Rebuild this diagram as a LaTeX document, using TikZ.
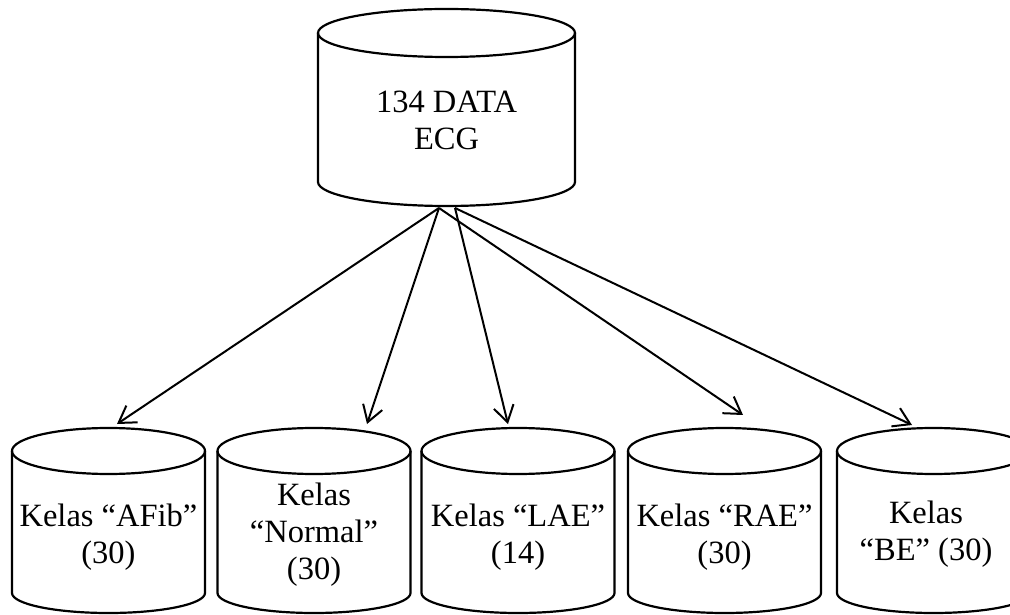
\documentclass[tikz,border=0pt]{standalone}
\usepackage{fontspec}
\setmainfont{Liberation Serif}
\usetikzlibrary{arrows.meta}

\tikzset{
  drumline/.style={line width=2.2pt, line join=round},
  drumtext/.style={align=center, font=\fontsize{32.5}{37}\selectfont, inner sep=0pt},
  flow/.style={line width=2pt, -{Straight Barb[angle=64:19pt, line width=2pt]}},
}

% database drum: centre x, half width, top rim y, bottom rim y, top radius, bottom radius
\newcommand\drum[6]{%
  \draw[drumline] (#1-#2,#3) -- (#1-#2,#4)
    arc[start angle=180, end angle=360, x radius=#2, y radius=#6] -- (#1+#2,#3);
  \draw[drumline] (#1,#3) ellipse[x radius=#2, y radius=#5];
}

\begin{document}
\begin{tikzpicture}[x=1pt, y=1pt]
  \clip (0,0) rectangle (1010,614);

  % source data set
  \drum{446.5}{128.5}{581}{432}{24}{24}
  \node[drumtext] (ecg) at (446.5,494) {134 DATA\\ECG};

  % the five classes
  \drum{108.5}{96.5}{163}{21}{23}{20}
  \drum{314}{96.5}{163}{21}{23}{20}
  \drum{518}{96.5}{163}{21}{23}{20}
  \drum{724.5}{96.5}{163}{21}{23}{20}
  \drum{933.5}{96.5}{163}{21}{23}{20}

  \node[drumtext] (afib)   at (108.5,77) {Kelas “AFib”\\(30)};
  \node[drumtext] (normal) at (314,79)   {Kelas\\“Normal”\\(30)};
  \node[drumtext] (lae)    at (518,77)   {Kelas “LAE”\\(14)};
  \node[drumtext] (rae)    at (724.5,77) {Kelas “RAE”\\(30)};
  \node[drumtext] (be)     at (926,80)   {Kelas\\“BE” (30)};

  % split points under the source drum and arrow ends above each class
  \coordinate (srcL) at (439,406);
  \coordinate (srcR) at (455,406);
  \coordinate (toAfib)   at (117,190);
  \coordinate (toNormal) at (367,190);
  \coordinate (toLae)    at (508,190);
  \coordinate (toRae)    at (743,199);
  \coordinate (toBe)     at (912,189);

  \draw[flow] (srcL) -- (toAfib);
  \draw[flow] (srcL) -- (toNormal);
  \draw[flow] (srcR) -- (toLae);
  \draw[flow] (srcL) -- (toRae);
  \draw[flow] (srcR) -- (toBe);
\end{tikzpicture}
\end{document}
